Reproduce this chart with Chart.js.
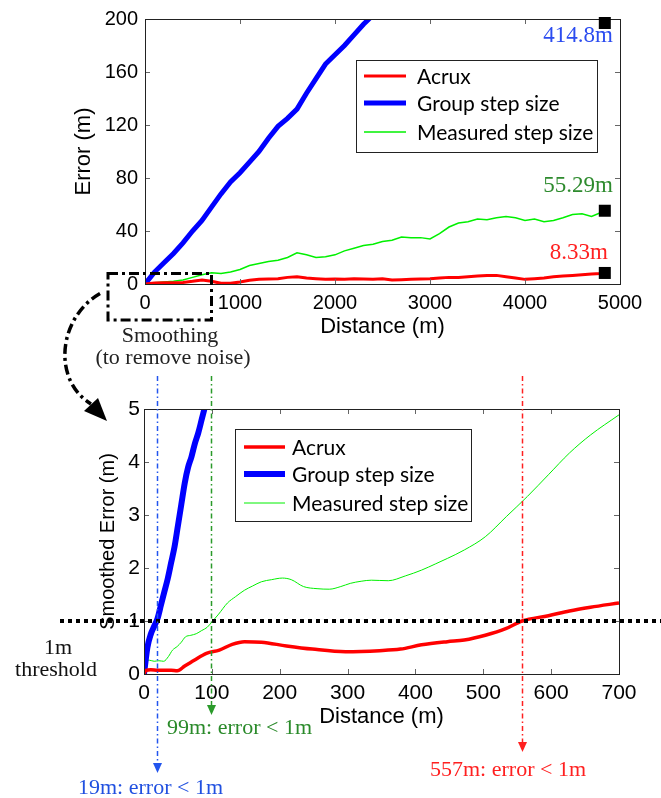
<!DOCTYPE html>
<html>
<head>
<meta charset="utf-8">
<script src="https://cdn.jsdelivr.net/npm/chart.js@4.4.1/dist/chart.umd.min.js"></script>
<style>
  html, body { margin: 0; padding: 0; background: #fff; }
  #wrap { position: relative; width: 661px; height: 798px; }
  canvas { position: absolute; left: 0; top: 0; }
</style>
</head>
<body>
<div id="wrap">
  <canvas id="topChart" width="661" height="798"></canvas>
  <canvas id="zoomChart" width="661" height="798"></canvas>
</div>
<script>
// ---- data ----
const seriesNames = ['Acrux', 'Group step size', 'Measured step size'];

// full walk, raw error (m)
const topDistance = [0,100,200,300,400,500,600,700,800,900,1000,1100,1200,1300,1400,1500,1600,1700,1800,1900,
  2000,2100,2200,2300,2400,2500,2600,2700,2800,2900,3000,3100,3200,3300,3400,3500,3600,3700,3800,3900,
  4000,4100,4200,4300,4400,4500,4600,4700,4800,4840];
const topAcrux = [0,0.8,1,1,1.2,2,3,2,0.5,0.5,1.5,2.8,3.5,3.8,4,5,5.5,4.5,4,3.5,
  3.8,3.5,4,3.8,3.5,4,3,3.2,3.5,3.8,4,4.5,5,5,5.5,6,6.5,6.5,5.5,4.5,
  3.5,4,4.5,5.5,6,6.5,7,7.5,8,8.33];
const topMeasured = [0,1,1.5,2,3,5,7,8.5,8,9,11,14,15.5,17,18,20,23.5,22,20,20.5,
  22,25,27,29,30,32,33,35.5,35,35,34,38,43,46,47,49,48.5,50,51,50,
  48,49,47,48,50,52.5,53,51,54,55.29];
const groupDistance = [0,100,200,300,400,500,600,700,800,900,1000,1100,1200,1300,1400,1500,1600,1700,1800,1900,
  2000,2100,2200,2300,2400,4840];
const topGroup = [0,9,16,23,31,40,48,58,68,77,84,92,100,110,119,125,132,144,155,166,
  173,180,188,196,203,414.8];
const endDistance = 4840;
const finalErrors = [8.33, 414.8, 55.29];
const topXTicks = [0,1000,2000,3000,4000,5000];
const topYTicks = [0,40,80,120,160,200];

// first 700 m, smoothed error (m)
const zoomAcruxDist = [0,3,10,20,30,40,49,60,74,92,111,130,148,173,210,248,297,347,378,409,447,472,503,534,557,596,627,658,700];
const zoomAcrux = [0,0.07,0.08,0.07,0.07,0.07,0.06,0.15,0.26,0.39,0.45,0.56,0.61,0.6,0.53,0.47,0.42,0.44,0.47,0.55,0.61,0.64,0.73,0.86,1.0,1.1,1.19,1.26,1.34];
const zoomGroupDist = [0,5,10,15,20,25,30,35,40,45,50,55,60,65,70,75,80,85,90];
const zoomGroup = [0,0.5,0.75,0.9,1.05,1.3,1.55,1.8,2.1,2.4,2.8,3.2,3.6,3.9,4.1,4.35,4.55,4.8,5.05];
const zoomMeasuredDist = [0,3,8,15,22,29,36,42,49,55,61,69,77,85,93,100,110,123,135,148,
  160,173,188,204,217,235,255,273,290,304,320,335,360,385,409,430,447,472,503,534,565,596,627,658,700];
const zoomMeasured = [0,0.26,0.26,0.24,0.25,0.24,0.33,0.45,0.52,0.6,0.7,0.73,0.76,0.82,0.88,0.98,1.13,1.34,1.46,1.58,
  1.66,1.74,1.78,1.81,1.78,1.65,1.61,1.6,1.65,1.71,1.75,1.77,1.76,1.85,1.96,2.08,2.18,2.34,2.59,2.97,3.35,3.76,4.17,4.51,4.89];
const zoomXTicks = [0,100,200,300,400,500,600,700];
const zoomYTicks = [0,1,2,3,4,5];
const thresholdError = 1;
const crossDistances = [19, 99, 557]; // group, measured, acrux
const crossLabels = ['19m: error < 1m', '99m: error < 1m', '557m: error < 1m'];
const smoothedRange = 700;

// ---- helpers ----
function pts(xs, ys) {
  return xs.map((x, i) => ({ x: x, y: ys[i] }));
}

function dashDotLine(ctx, x1, y1, x2, y2) {
  ctx.beginPath();
  ctx.moveTo(x1, y1);
  ctx.lineTo(x2, y2);
  ctx.stroke();
}

function downArrow(ctx, x, tipY, color) {
  ctx.fillStyle = color;
  ctx.beginPath();
  ctx.moveTo(x - 4.5, tipY - 10);
  ctx.lineTo(x + 4.5, tipY - 10);
  ctx.lineTo(x, tipY);
  ctx.closePath();
  ctx.fill();
}

// MATLAB style box with inward ticks
const framePlugin = {
  id: 'frame',
  afterDatasetsDraw(chart) {
    const ctx = chart.ctx;
    const a = chart.chartArea;
    const x = chart.scales.x, y = chart.scales.y;
    ctx.save();
    ctx.strokeStyle = '#666';
    ctx.lineWidth = 1;
    x.ticks.forEach(t => {
      const px = Math.round(x.getPixelForValue(t.value)) + 0.5;
      dashDotLine(ctx, px, a.bottom, px, a.bottom - 5);
      dashDotLine(ctx, px, a.top, px, a.top + 5);
    });
    y.ticks.forEach(t => {
      const py = Math.round(y.getPixelForValue(t.value)) + 0.5;
      dashDotLine(ctx, a.left, py, a.left + 5, py);
      dashDotLine(ctx, a.right, py, a.right - 5, py);
    });
    ctx.strokeStyle = '#222';
    ctx.strokeRect(Math.round(a.left) + 0.5, Math.round(a.top) + 0.5,
      Math.round(a.right - a.left), Math.round(a.bottom - a.top));
    ctx.restore();
  }
};

function drawLegend(chart, box) {
  const ctx = chart.ctx;
  const a = chart.chartArea;
  const x0 = Math.round(a.left + box.dx), y0 = Math.round(a.top + box.dy);
  ctx.save();
  ctx.fillStyle = '#fff';
  ctx.fillRect(x0, y0, box.w, box.h);
  ctx.strokeStyle = '#222';
  ctx.lineWidth = 1;
  ctx.strokeRect(x0 + 0.5, y0 + 0.5, box.w, box.h);
  ctx.font = '21px Lato';
  ctx.textBaseline = 'middle';
  chart.data.datasets.forEach((ds, i) => {
    const ly = y0 + box.rows[i];
    ctx.strokeStyle = ds.borderColor;
    ctx.lineWidth = ds.borderWidth;
    dashDotLine(ctx, x0 + box.l1, ly, x0 + box.l2, ly);
    ctx.fillStyle = '#000';
    ctx.fillText(ds.label, x0 + box.tx, ly + 1);
  });
  ctx.restore();
}

function axes(o) {
  return {
    x: {
      type: 'linear', min: o.xMin, max: o.xMax,
      afterBuildTicks: s => { s.ticks = o.xTicks.map(v => ({ value: v })); },
      afterFit: s => { s.height = 60; },
      grid: { display: false, drawTicks: false },
      border: { display: false },
      ticks: { padding: 7, autoSkip: false, maxRotation: 0, color: '#000',
        font: { family: 'Liberation Sans', size: o.tickSize }, callback: v => String(v) },
      title: { display: true, text: 'Distance (m)', color: '#000', padding: { top: 0, bottom: 4 },
        font: { family: 'Liberation Sans', size: 22 } }
    },
    y: {
      type: 'linear', min: o.yMin, max: o.yMax,
      afterBuildTicks: s => { s.ticks = o.yTicks.map(v => ({ value: v })); },
      afterFit: s => { s.width = o.yWidth; },
      grid: { display: false, drawTicks: false },
      border: { display: false },
      ticks: { padding: o.yPad, autoSkip: false, color: '#000',
        font: { family: 'Liberation Sans', size: o.tickSize }, callback: v => String(v) },
      title: { display: true, text: o.yTitle, color: '#000', padding: { top: o.yTitlePad, bottom: 0 },
        font: { family: 'Liberation Sans', size: o.yTitleSize } }
    }
  };
}

// ---- top chart: full walk ----
const topExtras = {
  id: 'topExtras',
  afterDraw(chart) {
    const ctx = chart.ctx;
    const a = chart.chartArea;
    const x = chart.scales.x, y = chart.scales.y;
    drawLegend(chart, { dx: 211, dy: 41, w: 241, h: 92, rows: [16, 43, 72], l1: 8, l2: 50, tx: 61 });

    // final error markers
    ctx.save();
    ctx.fillStyle = '#000';
    const mx = x.getPixelForValue(endDistance);
    finalErrors.forEach(v => {
      const my = Math.max(y.getPixelForValue(v), a.top + 4);
      ctx.fillRect(mx - 6, my - 6, 12, 12);
    });
    ctx.font = '23px "Liberation Serif"';
    ctx.textAlign = 'right';
    ctx.textBaseline = 'middle';
    ctx.fillStyle = '#2b4cf0';
    ctx.fillText(finalErrors[1] + 'm', 613, a.top + 17);
    ctx.fillStyle = '#2e8b2e';
    ctx.fillText(finalErrors[2] + 'm', 613, y.getPixelForValue(finalErrors[2]) - 25);
    ctx.fillStyle = '#ff2020';
    ctx.fillText(finalErrors[0] + 'm', 608, y.getPixelForValue(finalErrors[0]) - 20);

    // smoothing box around the first 700 m
    ctx.strokeStyle = '#000';
    ctx.lineWidth = 3;
    ctx.setLineDash([10, 4, 3, 4]);
    const bx1 = x.getPixelForValue(0) - 37, bx2 = x.getPixelForValue(smoothedRange);
    const by1 = y.getPixelForValue(8), by2 = a.bottom + 36;
    ctx.strokeRect(bx1, by1, bx2 - bx1, by2 - by1);

    // curved arrow to the lower chart
    ctx.lineWidth = 3.5;
    ctx.beginPath();
    ctx.moveTo(bx1 - 8, by1 + 20);
    ctx.bezierCurveTo(58, 318, 52, 380, 91, 404);
    ctx.stroke();
    ctx.setLineDash([]);
    ctx.fillStyle = '#000';
    ctx.beginPath();
    ctx.moveTo(84, 411);
    ctx.lineTo(98, 398);
    ctx.lineTo(107, 421);
    ctx.closePath();
    ctx.fill();

    ctx.font = '22px "Liberation Serif"';
    ctx.textAlign = 'center';
    ctx.fillStyle = '#222';
    ctx.fillText('Smoothing', 170, 336);
    ctx.fillText('(to remove noise)', 173, 358);
    ctx.restore();
  }
};

const topCtx = document.getElementById('topChart').getContext('2d');
new Chart(topCtx, {
  type: 'line',
  data: {
    datasets: [
      { label: seriesNames[0], data: pts(topDistance, topAcrux), borderColor: '#ff0000', borderWidth: 3 },
      { label: seriesNames[1], data: pts(groupDistance, topGroup), borderColor: '#0000ff', borderWidth: 5 },
      { label: seriesNames[2], data: pts(topDistance, topMeasured), borderColor: '#00f000', borderWidth: 1.5 }
    ]
  },
  options: {
    responsive: false,
    animation: false,
    layout: { padding: { left: 0, top: 19, right: 41, bottom: 454 } },
    elements: { point: { radius: 0 }, line: { tension: 0 } },
    scales: axes({ xMin: 0, xMax: 5000, xTicks: topXTicks, yMin: 0, yMax: 200, yTicks: topYTicks,
      tickSize: 20, yWidth: 145, yPad: 7, yTitle: 'Error (m)', yTitleSize: 22, yTitlePad: 71 }),
    plugins: { legend: { display: false }, tooltip: { enabled: false } }
  },
  plugins: [framePlugin, topExtras]
});

// ---- bottom chart: first 700 m, smoothed ----
const zoomExtras = {
  id: 'zoomExtras',
  afterDatasetsDraw(chart) {
    const ctx = chart.ctx;
    const y = chart.scales.y;
    // 1m threshold
    ctx.save();
    ctx.strokeStyle = '#000';
    ctx.lineWidth = 4;
    ctx.setLineDash([4, 4]);
    const ty = y.getPixelForValue(thresholdError);
    dashDotLine(ctx, 60, ty, 661, ty);
    ctx.restore();
  },
  afterDraw(chart) {
    const ctx = chart.ctx;
    const x = chart.scales.x, y = chart.scales.y;
    drawLegend(chart, { dx: 91, dy: 20, w: 236, h: 92, rows: [18, 45, 74], l1: 9, l2: 50, tx: 57 });

    ctx.save();
    const lineColors = ['#2255ee', '#2a9a2a', '#ff2020'];
    const textColors = ['#2050e0', '#2a8a2a', '#ff2020'];
    const tipY = [773, 715, 752];
    const textPos = [[78, 788], [167, 728], [430, 770]];
    crossDistances.forEach((d, i) => {
      const px = Math.round(x.getPixelForValue(d)) + 0.5;
      ctx.strokeStyle = lineColors[i];
      ctx.lineWidth = 1.5;
      ctx.setLineDash([5, 3, 1.5, 3]);
      dashDotLine(ctx, px, 376, px, tipY[i] - 8);
      ctx.setLineDash([]);
      downArrow(ctx, px, tipY[i], lineColors[i]);
      ctx.font = '22px "Liberation Serif"';
      ctx.textBaseline = 'middle';
      ctx.textAlign = 'left';
      ctx.fillStyle = textColors[i];
      ctx.fillText(crossLabels[i], textPos[i][0], textPos[i][1]);
    });

    ctx.fillStyle = '#111';
    ctx.textAlign = 'center';
    ctx.textBaseline = 'middle';
    ctx.font = '22px "Liberation Serif"';
    const ty = y.getPixelForValue(thresholdError);
    ctx.fillText('1m', 58, ty + 27);
    ctx.fillText('threshold', 56, ty + 49);
    ctx.restore();
  }
};

const zoomCtx = document.getElementById('zoomChart').getContext('2d');
new Chart(zoomCtx, {
  type: 'line',
  data: {
    datasets: [
      { label: seriesNames[0], data: pts(zoomAcruxDist, zoomAcrux), borderColor: '#ff0000', borderWidth: 3.5 },
      { label: seriesNames[1], data: pts(zoomGroupDist, zoomGroup), borderColor: '#0000ff', borderWidth: 6 },
      { label: seriesNames[2], data: pts(zoomMeasuredDist, zoomMeasured), borderColor: '#00f000', borderWidth: 1 }
    ]
  },
  options: {
    responsive: false,
    animation: false,
    layout: { padding: { left: 0, top: 409, right: 42, bottom: 64 } },
    elements: { point: { radius: 0 }, line: { cubicInterpolationMode: 'monotone' } },
    scales: axes({ xMin: 0, xMax: 700, xTicks: zoomXTicks, yMin: 0, yMax: 5, yTicks: zoomYTicks,
      tickSize: 21, yWidth: 144, yPad: 4, yTitle: 'Smoothed Error (m)', yTitleSize: 20, yTitlePad: 96 }),
    plugins: { legend: { display: false }, tooltip: { enabled: false } }
  },
  plugins: [framePlugin, zoomExtras]
});
</script>
</body>
</html>
